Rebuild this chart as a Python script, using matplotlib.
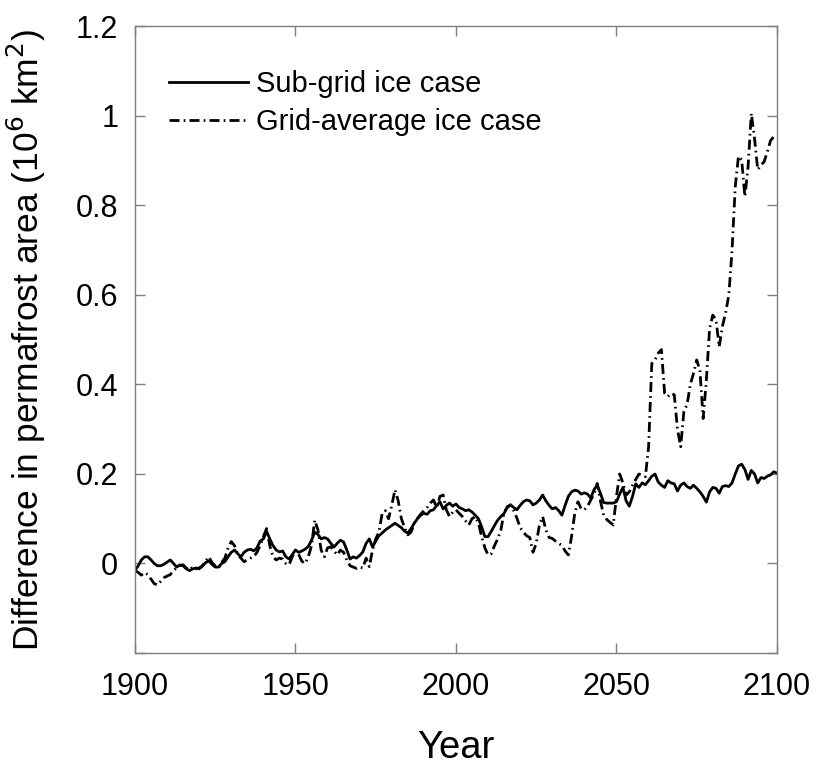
import matplotlib
matplotlib.use('Agg')
import matplotlib.pyplot as plt
import numpy as np

plt.rcParams['font.family'] = ['Liberation Sans', 'DejaVu Sans']

years = np.arange(1900, 2101)

# Sub-grid ice case (solid), 10^6 km^2, yearly 1900-2100
sub_grid = [
    -0.015, -0.005, 0.008, 0.015, 0.015, 0.008, 0.000, -0.005, -0.005, -0.002,
    0.003, 0.008, 0.000, -0.008, -0.003, -0.005, -0.012, -0.016, -0.012, -0.010,
    -0.012, -0.006, 0.002, 0.006, -0.002, -0.008, -0.008, 0.000, 0.004, 0.015,
    0.025, 0.030, 0.022, 0.015, 0.025, 0.030, 0.032, 0.028, 0.035, 0.050,
    0.055, 0.072, 0.055, 0.040, 0.030, 0.026, 0.028, 0.015, 0.010, 0.020,
    0.030, 0.025, 0.028, 0.032, 0.038, 0.052, 0.070, 0.065, 0.055, 0.058,
    0.055, 0.045, 0.037, 0.045, 0.052, 0.048, 0.030, 0.010, 0.015, 0.012,
    0.018, 0.026, 0.045, 0.055, 0.037, 0.050, 0.062, 0.068, 0.075, 0.080,
    0.085, 0.090, 0.085, 0.080, 0.072, 0.068, 0.078, 0.090, 0.100, 0.108,
    0.112, 0.110, 0.118, 0.120, 0.130, 0.138, 0.122, 0.130, 0.135, 0.128,
    0.133, 0.125, 0.122, 0.118, 0.120, 0.115, 0.108, 0.100, 0.082, 0.060,
    0.060, 0.072, 0.085, 0.097, 0.105, 0.112, 0.127, 0.131, 0.125, 0.120,
    0.130, 0.138, 0.142, 0.140, 0.131, 0.135, 0.142, 0.153, 0.140, 0.130,
    0.122, 0.125, 0.118, 0.108, 0.130, 0.150, 0.160, 0.164, 0.162, 0.155,
    0.158, 0.155, 0.146, 0.165, 0.175, 0.157, 0.136, 0.135, 0.135, 0.135,
    0.138, 0.155, 0.170, 0.140, 0.128, 0.150, 0.178, 0.170, 0.180, 0.176,
    0.185, 0.195, 0.200, 0.182, 0.175, 0.170, 0.185, 0.180, 0.178, 0.162,
    0.175, 0.180, 0.172, 0.168, 0.175, 0.168, 0.160, 0.150, 0.137, 0.160,
    0.170, 0.168, 0.157, 0.172, 0.174, 0.172, 0.180, 0.200, 0.218, 0.222,
    0.210, 0.188, 0.208, 0.200, 0.180, 0.192, 0.190, 0.195, 0.198, 0.205,
    0.202,
]

# Grid-average ice case (dash-dot)
grid_avg = [
    -0.015, -0.020, -0.026, -0.020, -0.025, -0.035, -0.045, -0.048, -0.040, -0.032,
    -0.028, -0.025, -0.015, -0.010, -0.005, -0.003, -0.010, -0.014, -0.008, -0.012,
    -0.010, -0.005, 0.005, 0.015, 0.002, -0.005, -0.010, 0.002, 0.012, 0.035,
    0.049, 0.040, 0.020, 0.012, 0.004, 0.008, 0.012, 0.015, 0.025, 0.040,
    0.060, 0.078, 0.040, 0.015, 0.008, 0.012, 0.010, 0.000, -0.003, 0.015,
    0.030, 0.020, 0.005, 0.000, 0.015, 0.040, 0.097, 0.075, 0.030, 0.015,
    0.035, 0.037, 0.028, 0.019, 0.030, 0.025, 0.008, -0.005, -0.008, -0.011,
    -0.008, -0.010, 0.012, -0.007, 0.030, 0.055, 0.070, 0.112, 0.118, 0.100,
    0.130, 0.165, 0.140, 0.100, 0.080, 0.064, 0.070, 0.090, 0.101, 0.110,
    0.118, 0.125, 0.135, 0.142, 0.125, 0.150, 0.153, 0.120, 0.105, 0.115,
    0.120, 0.112, 0.105, 0.095, 0.086, 0.100, 0.105, 0.090, 0.060, 0.035,
    0.019, 0.022, 0.040, 0.055, 0.075, 0.115, 0.125, 0.131, 0.118, 0.101,
    0.080, 0.070, 0.062, 0.058, 0.025, 0.045, 0.086, 0.105, 0.075, 0.058,
    0.056, 0.050, 0.045, 0.040, 0.028, 0.019, 0.060, 0.112, 0.138, 0.122,
    0.120, 0.128, 0.142, 0.155, 0.179, 0.140, 0.108, 0.098, 0.092, 0.086,
    0.150, 0.200, 0.180, 0.153, 0.160, 0.175, 0.188, 0.200, 0.197, 0.194,
    0.260, 0.447, 0.455, 0.470, 0.478, 0.380, 0.373, 0.380, 0.377, 0.300,
    0.261, 0.340, 0.355, 0.400, 0.425, 0.455, 0.430, 0.324, 0.410, 0.525,
    0.555, 0.545, 0.484, 0.530, 0.560, 0.600, 0.700, 0.842, 0.910, 0.902,
    0.820, 0.887, 1.006, 0.950, 0.880, 0.890, 0.898, 0.920, 0.945, 0.954,
    0.955,
]

x_ticks = [1900, 1950, 2000, 2050, 2100]
y_ticks = [-0.2, 0, 0.2, 0.4, 0.6, 0.8, 1.0, 1.2]
y_ticklabels = ['', '0', '0.2', '0.4', '0.6', '0.8', '1', '1.2']

fig = plt.figure(figsize=(8.19, 7.65), dpi=100)
ax = fig.add_axes([0.1648, 0.1464, 0.7839, 0.8190])

ax.plot(years, sub_grid, color='black', lw=2.0, ls='-', label='Sub-grid ice case')
ax.plot(years, grid_avg, color='black', lw=2.0, ls=(0, (3.6, 1.5, 0.6, 1.5)),
        label='Grid-average ice case')

ax.set_xlim(1900, 2100)
ax.set_ylim(-0.2, 1.2)
ax.set_xticks(x_ticks)
ax.set_yticks(y_ticks)
ax.set_yticklabels(y_ticklabels)

for s in ax.spines.values():
    s.set_color('#7f7f7f')
    s.set_linewidth(1.0)
ax.tick_params(direction='in', length=7, width=1.0, color='#7f7f7f',
               labelsize=22, labelcolor='black', top=True, right=True)
ax.tick_params(axis='x', pad=14)
ax.tick_params(axis='y', pad=12)

ax.set_xlabel('Year', fontsize=27.5, labelpad=20)
ax.set_ylabel('Difference in permafrost area (10$^{6}$ km$^{2}$)', fontsize=25.5, labelpad=20)

leg = ax.legend(loc='upper left', bbox_to_anchor=(0.012, 0.972), frameon=False,
                fontsize=21, handlelength=2.7, handletextpad=0.3, labelspacing=0.33)

plt.savefig('out.png', dpi=100)
